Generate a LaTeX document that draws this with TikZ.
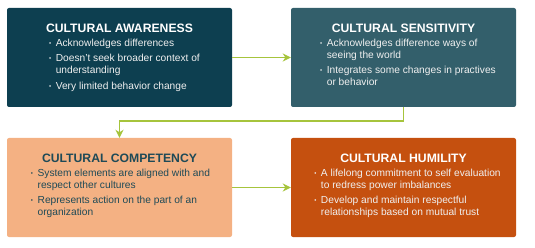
\documentclass[tikz,border=0pt]{standalone}
\usepackage{fontspec}
\setmainfont{Liberation Sans}
\usetikzlibrary{arrows.meta}
\definecolor{cA}{HTML}{0D3F50}
\definecolor{cB}{HTML}{335F6B}
\definecolor{cC}{HTML}{F4B183}
\definecolor{cD}{HTML}{C5500F}
\definecolor{cText}{HTML}{1E4A57}
\definecolor{cArrow}{HTML}{A6C43C}
\newcommand{\bul}{\raisebox{0.15ex}{\scalebox{0.6}{•}}}
\newcommand{\bodylist}[1]{\begin{tabular}{@{}l@{\hspace{4.5pt}}l@{}}#1\end{tabular}}
\begin{document}
\begin{tikzpicture}[x=1pt,y=-1pt,
  box/.style={rounded corners=2pt, inner sep=0pt, minimum width=225pt, minimum height=99pt},
  title/.style={font=\bfseries\fontsize{12.2}{14}\selectfont, anchor=base, inner sep=0pt},
  body/.style={font=\fontsize{10.2}{12}\selectfont, anchor=north, inner sep=0pt, align=left},
  conn/.style={draw=cArrow, line width=1.8pt, -{Stealth[length=8pt,width=8pt,inset=2.5pt]}}]
\useasboundingbox (0,0) rectangle (535,248);
\node[box, fill=cA] (b1) at (119.5,57.5) {};
\node[box, fill=cB] (b2) at (403.5,57.5) {};
\node[box, fill=cC] (b3) at (119.5,187.5) {};
\node[box, fill=cD] (b4) at (403.5,187.5) {};
% titles
\node[title, text=white] (t1) at (119.5,33) {CULTURAL AWARENESS};
\node[title, text=white] (t2) at (403.5,33) {CULTURAL SENSITIVITY};
\node[title, text=cText] (t3) at (119.5,163) {CULTURAL COMPETENCY};
\node[title, text=white] (t4) at (403.5,163) {CULTURAL HUMILITY};
% bodies
\node[body, text=white!94!black] (d1) at (124.5,37.5) {\bodylist{%
\bul & Acknowledges differences\\[3.5pt]
\bul & Doesn't seek broader context of\\
 & understanding\\[3.5pt]
\bul & Very limited behavior change}};
\node[body, text=white!94!black] (d2) at (408,37.5) {\bodylist{%
\bul & Acknowledges difference ways of\\
 & seeing the world\\[3.5pt]
\bul & Integrates some changes in practives\\
 & or behavior}};
\node[body, text=cText] (d3) at (120.5,167.5) {\bodylist{%
\bul & System elements are aligned with and\\
 & respect other cultures\\[3.5pt]
\bul & Represents action on the part of an\\
 & organization}};
\node[body, text=white!94!black] (d4) at (407.5,167.5) {\bodylist{%
\bul & A lifelong commitment to self evaluation\\
 & to redress power imbalances\\[3.5pt]
\bul & Develop and maintain respectful\\
 & relationships based on mutual trust}};
% connectors
\draw[conn] (b1.east) -- (b2.west);
\draw[conn] (b2.south) -- ++(0,13.5) -| (b3.north);
\draw[conn] (b3.east) -- (b4.west);
\end{tikzpicture}
\end{document}
